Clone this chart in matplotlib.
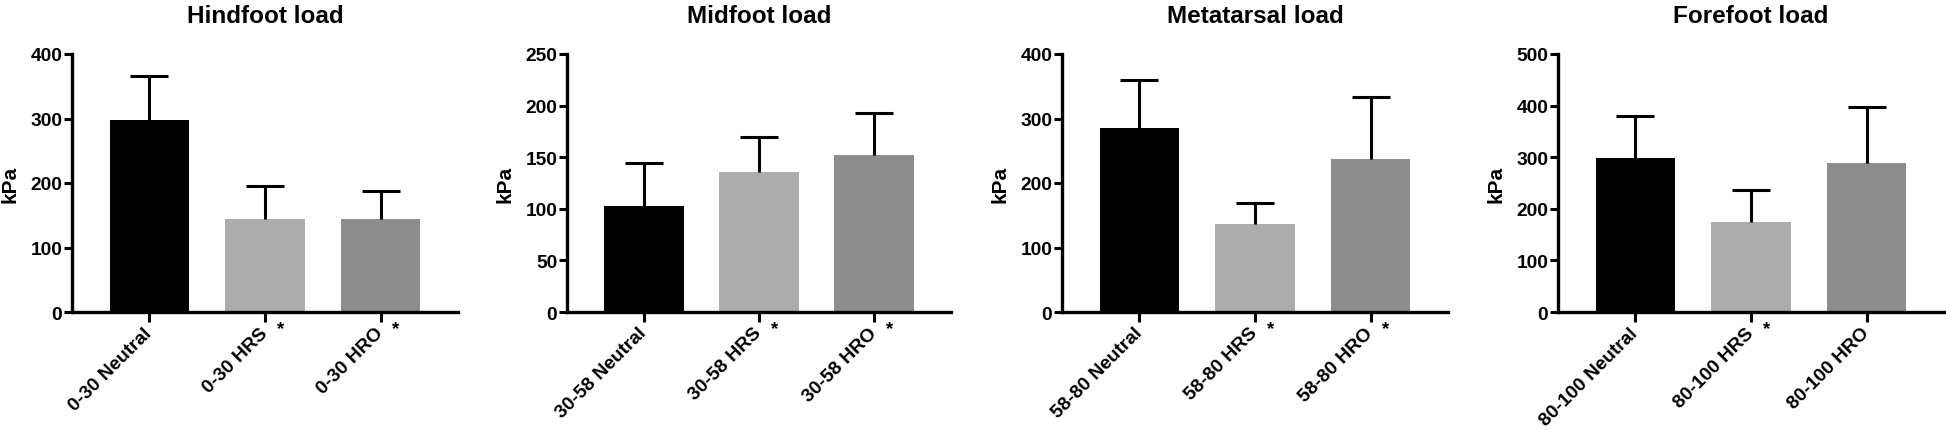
import matplotlib
matplotlib.use("Agg")
import matplotlib.pyplot as plt

plt.rcParams['font.family'] = ['Liberation Sans', 'DejaVu Sans']
plt.rcParams['font.weight'] = 'bold'
plt.rcParams['axes.labelweight'] = 'bold'
plt.rcParams['axes.titleweight'] = 'bold'

# plantar pressure by foot region, mean and SD (kPa)
titles = ['Hindfoot load', 'Midfoot load', 'Metatarsal load', 'Forefoot load']
ranges = ['0-30', '30-58', '58-80', '80-100']
conditions = ['Neutral', 'HRS', 'HRO']
hind_mean = [298, 144, 144]
hind_sd = [68, 51, 43]
mid_mean = [103, 136, 152]
mid_sd = [41, 34, 41]
meta_mean = [286, 137, 237]
meta_sd = [74, 32, 97]
fore_mean = [299, 174, 288]
fore_sd = [80, 62, 110]
# significance marks next to each tick
hind_sig = ['', '*', '*']
mid_sig = ['', '*', '*']
meta_sig = ['', '*', '*']
fore_sig = ['', '*', '']
ymax = [400, 250, 400, 500]
ystep = [100, 50, 100, 100]

means = [hind_mean, mid_mean, meta_mean, fore_mean]
sds = [hind_sd, mid_sd, meta_sd, fore_sd]
sigs = [hind_sig, mid_sig, meta_sig, fore_sig]
colors = ['#000000', '#acacac', '#8d8d8d']

W, H = 1946, 431
fig = plt.figure(figsize=(W / 100, H / 100), dpi=100)
lefts = [72, 567, 1062, 1558]
rights = [458, 951, 1448, 1944]
top_px, bot_px = 55, 313

for i in range(4):
    ax = fig.add_axes([lefts[i] / W, 1 - bot_px / H,
                       (rights[i] - lefts[i]) / W, (bot_px - top_px) / H])
    x = range(len(conditions))
    ax.bar(x, means[i], width=0.69, color=colors, zorder=2)
    eb = ax.errorbar(x, means[i], yerr=[[0] * 3, sds[i]], fmt='none', ecolor='black',
                     elinewidth=2.2, capsize=14, capthick=2.2, zorder=3)
    eb[1][0].set_visible(False)  # no cap on the bar top
    ax.set_xlim(-0.67, 2.67)
    ax.set_ylim(0, ymax[i])
    ax.set_yticks(range(0, ymax[i] + 1, ystep[i]))
    ax.set_xticks(list(x))
    ax.set_xticklabels([ranges[i] + ' ' + c for c in conditions], rotation=45,
                       ha='right', va='center', rotation_mode='anchor',
                       fontsize=13.8, fontweight='bold')
    for lab in ax.get_yticklabels():
        lab.set_fontweight('bold')
    ax.tick_params(axis='x', length=7, width=2.2, pad=6)
    ax.tick_params(axis='y', length=6, width=2.2, labelsize=13.8, pad=1)
    for j, s in enumerate(sigs[i]):
        if s:
            ax.annotate(s, xy=(j, 0), xytext=(11, -12), textcoords='offset points',
                        ha='center', va='center', fontsize=13.5, fontweight='bold',
                        annotation_clip=False)
    for side in ['top', 'right']:
        ax.spines[side].set_visible(False)
    for side in ['left', 'bottom']:
        ax.spines[side].set_linewidth(2.4)
    ax.set_ylabel('kPa', fontsize=15, fontweight='bold', labelpad=8)
    ax.set_title(titles[i], fontsize=17.5, fontweight='bold', pad=23)

fig.savefig('out.png', dpi=100)
